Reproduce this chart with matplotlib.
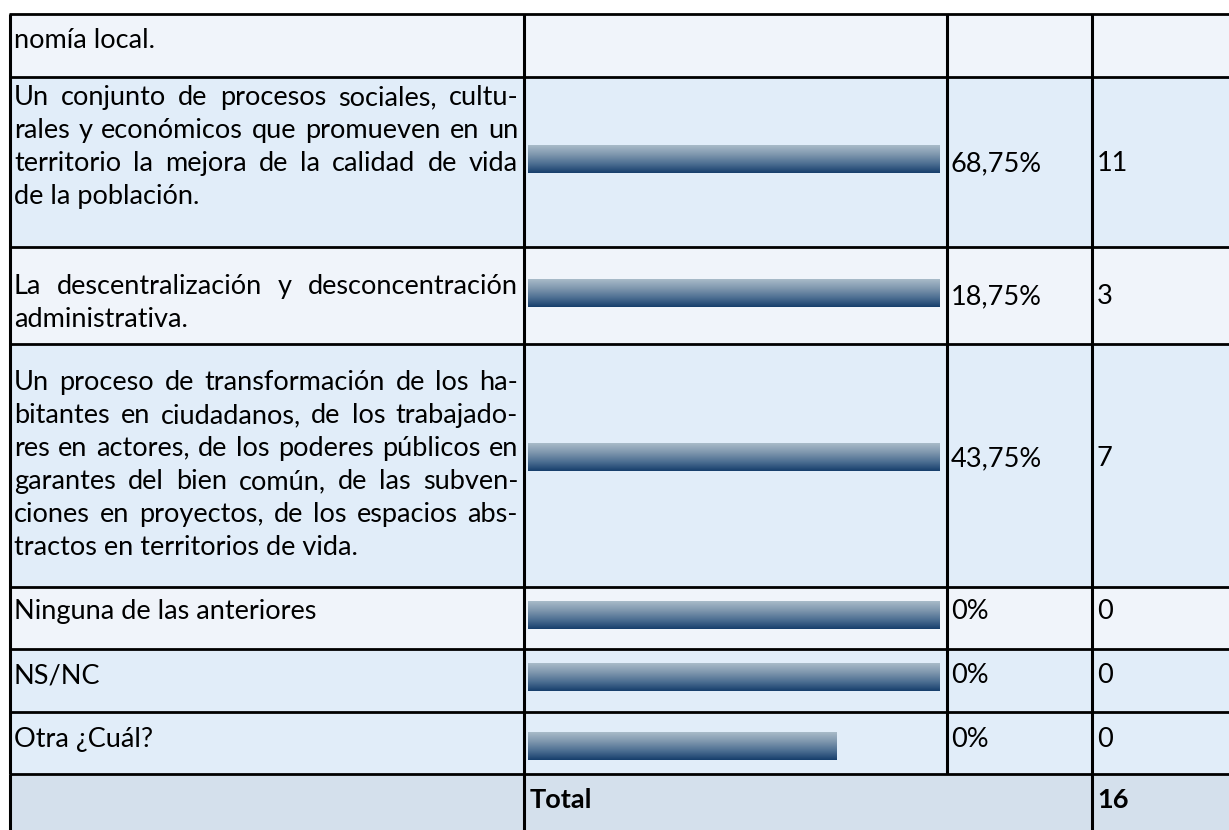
import matplotlib
matplotlib.use("Agg")
import matplotlib.pyplot as plt
import numpy as np
from matplotlib.patches import Rectangle
from matplotlib.colors import LinearSegmentedColormap

# ---------------- data ----------------
categories = [
    ["nomía local."],
    ["Un conjunto de procesos sociales, cultu-",
     "rales y económicos que promueven en un",
     "territorio la mejora de la calidad de vida",
     "de la población."],
    ["La descentralización y desconcentración",
     "administrativa."],
    ["Un proceso de transformación de los ha-",
     "bitantes en ciudadanos, de los trabajado-",
     "res en actores, de los poderes públicos en",
     "garantes del bien común, de las subven-",
     "ciones en proyectos, de los espacios abs-",
     "tractos en territorios de vida."],
    ["Ninguna de las anteriores"],
    ["NS/NC"],
    ["Otra ¿Cuál?"],
]
percentages = ["", "68,75%", "18,75%", "43,75%", "0%", "0%", "0%"]
counts = ["", "11", "3", "7", "0", "0", "0"]
bar_lengths = [0.0, 1.0, 1.0, 1.0, 1.0, 1.0, 0.75]
total_label = "Total"
total_value = "16"

# ---------------- layout (pixels) ----------------
W, H = 1229, 830
row_edges = [14, 77, 247, 344, 587, 649, 712, 774, 830]
col_x = [10, 524, 947, 1092]
row_colors = ["#F0F4FA", "#E1EDF9", "#F0F4FA", "#E1EDF9",
              "#F0F4FA", "#E1EDF9", "#E1EDF9"]
total_color = "#D4E0EC"
first_line_y = [40, 97, 286, 382, 611, 675, 739]
value_y = [None, 163, 296, 458, 611, 675, 739]
line_step = 33
bar_centers = [None, 159, 293, 457, 615, 677, 746]
bar_h = 28
bar_x0, bar_x1 = 528, 940
text_x0, text_x1 = 14, 518
font = "Lato"
fs = 19.5
base_off = 8

fig = plt.figure(figsize=(W / 100, H / 100), dpi=100)
ax = fig.add_axes([0, 0, 1, 1])
ax.set_xlim(0, W)
ax.set_ylim(H, 0)
ax.axis("off")

# backgrounds
for i, c in enumerate(row_colors):
    ax.add_patch(Rectangle((col_x[0], row_edges[i]), W - col_x[0],
                           row_edges[i + 1] - row_edges[i],
                           facecolor=c, edgecolor="none", zorder=0))
ax.add_patch(Rectangle((col_x[0], row_edges[-2]), W - col_x[0],
                       row_edges[-1] - row_edges[-2],
                       facecolor=total_color, edgecolor="none", zorder=0))

# grid lines
lw = 2.0
for y in row_edges[:-1]:
    ax.plot([col_x[0] - 1, W], [y, y], color="black", lw=lw, zorder=3,
            solid_capstyle="butt")
for x in col_x:
    ax.plot([x, x], [row_edges[0], row_edges[-2]], color="black", lw=2.2,
            zorder=3, solid_capstyle="butt")
for x in [col_x[0], col_x[1], col_x[3]]:
    ax.plot([x, x], [row_edges[-2], H], color="black", lw=2.2, zorder=3,
            solid_capstyle="butt")

# text
fig.canvas.draw()
renderer = fig.canvas.get_renderer()


def word_width(w):
    t = ax.text(0, 0, w, fontsize=fs, family=font)
    bb = t.get_window_extent(renderer)
    t.remove()
    return bb.width


def draw_line(s, y, justify):
    base = y + base_off
    words = s.split(" ")
    widths = [word_width(w) for w in words]
    if justify and len(words) > 1:
        gap = (text_x1 - text_x0 - sum(widths)) / (len(words) - 1)
        gap = max(gap, 2)
    else:
        gap = word_width("a b") - word_width("a") - word_width("b")
        ax.text(text_x0, base, s, fontsize=fs, family=font, va="baseline",
                ha="left", color="black", zorder=4)
        return
    x = text_x0
    for w, wd in zip(words, widths):
        ax.text(x, base, w, fontsize=fs, family=font, va="baseline",
                ha="left", color="black", zorder=4)
        x += wd + gap


for i, lines in enumerate(categories):
    for j, s in enumerate(lines):
        y = first_line_y[i] + j * line_step
        draw_line(s, y, justify=(j < len(lines) - 1))
    if percentages[i]:
        yc = value_y[i]
        ax.text(col_x[2] + 4, yc + base_off, percentages[i], fontsize=fs,
                family=font, va="baseline", ha="left", zorder=4)
        ax.text(col_x[3] + 5, yc + base_off, counts[i], fontsize=fs,
                family=font, va="baseline", ha="left", zorder=4)

ax.text(col_x[1] + 6, 800 + base_off, total_label, fontsize=fs, family=font,
        weight="bold", va="baseline", ha="left", zorder=4)
ax.text(col_x[3] + 5, 800 + base_off, total_value, fontsize=fs, family=font,
        weight="bold", va="baseline", ha="left", zorder=4)

# bars in their own axes (x: fraction of the bar column)
bax = fig.add_axes([bar_x0 / W, 0, (bar_x1 - bar_x0) / W, 1])
bax.set_xlim(0, 1)
bax.set_ylim(H, 0)
bax.axis("off")
bax.patch.set_alpha(0)
cmap = LinearSegmentedColormap.from_list(
    "g", ["#A9BBC9", "#7F97AE", "#4D6F92", "#163E6C"])
grad = np.linspace(0, 1, 256).reshape(-1, 1)
for i in range(1, len(bar_lengths)):
    bars = bax.barh(bar_centers[i], bar_lengths[i], height=bar_h, left=0,
                    color="none", edgecolor="none")
    r = bars[0]
    im = bax.imshow(grad, cmap=cmap, aspect="auto",
                    extent=(0, bar_lengths[i], bar_centers[i] + bar_h / 2,
                            bar_centers[i] - bar_h / 2),
                    origin="upper", zorder=2)
    im.set_clip_path(r)
bax.set_xlim(0, 1)
bax.set_ylim(H, 0)

fig.savefig("out.png", dpi=100)
